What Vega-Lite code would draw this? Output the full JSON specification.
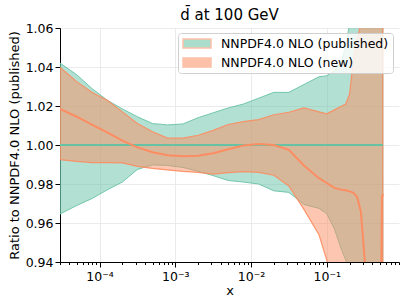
{
  "$schema": "https://vega.github.io/schema/vega-lite/v6.json",
  "width": 339,
  "height": 234,
  "autosize": {"type": "none"},
  "padding": {"left": 60, "top": 28, "right": 8, "bottom": 45},
  "background": "white",
  "title": {"text": "d̄ at 100 GeV", "fontSize": 15, "font": "DejaVu Sans", "fontWeight": "normal", "color": "#000", "offset": -1, "anchor": "middle"},
  "config": {
    "font": "DejaVu Sans",
    "view": {"stroke": null},
    "axis": {"labelFont": "DejaVu Sans", "titleFont": "DejaVu Sans", "labelFontSize": 12.5, "titleFontSize": 13, "titleFontWeight": "normal", "labelColor": "#000", "titleColor": "#000", "domainColor": "#000", "tickColor": "#000", "domainWidth": 1, "tickWidth": 1, "tickSize": 5, "gridColor": "#e6e6e6", "gridWidth": 0.8, "labelOverlap": false}
  },
  "data": {"values": [
    {"x": 3e-5, "g_lo": 0.9646, "g_hi": 1.042, "o_lo": 0.9925, "o_hi": 1.0398, "o_c": 1.0185, "g_c": 1.0},
    {"x": 5e-5, "g_lo": 0.969, "g_hi": 1.036, "o_lo": 0.9916, "o_hi": 1.0325, "o_c": 1.0145, "g_c": 1.0},
    {"x": 7.9e-5, "g_lo": 0.9725, "g_hi": 1.029, "o_lo": 0.991, "o_hi": 1.027, "o_c": 1.0105, "g_c": 1.0},
    {"x": 1.26e-4, "g_lo": 0.977, "g_hi": 1.023, "o_lo": 0.991, "o_hi": 1.023, "o_c": 1.0065, "g_c": 1.0},
    {"x": 2e-4, "g_lo": 0.981, "g_hi": 1.0185, "o_lo": 0.9908, "o_hi": 1.017, "o_c": 1.0022, "g_c": 1.0},
    {"x": 3.16e-4, "g_lo": 0.9875, "g_hi": 1.0145, "o_lo": 0.989, "o_hi": 1.011, "o_c": 0.9988, "g_c": 1.0},
    {"x": 5e-4, "g_lo": 0.9898, "g_hi": 1.011, "o_lo": 0.988, "o_hi": 1.0068, "o_c": 0.9963, "g_c": 1.0},
    {"x": 7.9e-4, "g_lo": 0.9895, "g_hi": 1.0103, "o_lo": 0.9872, "o_hi": 1.0035, "o_c": 0.9948, "g_c": 1.0},
    {"x": 1.26e-3, "g_lo": 0.9885, "g_hi": 1.0108, "o_lo": 0.9865, "o_hi": 1.0035, "o_c": 0.9942, "g_c": 1.0},
    {"x": 2e-3, "g_lo": 0.9865, "g_hi": 1.014, "o_lo": 0.986, "o_hi": 1.005, "o_c": 0.9945, "g_c": 1.0},
    {"x": 3.16e-3, "g_lo": 0.9843, "g_hi": 1.0165, "o_lo": 0.9851, "o_hi": 1.0075, "o_c": 0.9958, "g_c": 1.0},
    {"x": 5e-3, "g_lo": 0.9818, "g_hi": 1.019, "o_lo": 0.9858, "o_hi": 1.0105, "o_c": 0.9978, "g_c": 1.0},
    {"x": 7.9e-3, "g_lo": 0.981, "g_hi": 1.021, "o_lo": 0.9863, "o_hi": 1.012, "o_c": 0.9997, "g_c": 1.0},
    {"x": 0.0126, "g_lo": 0.98, "g_hi": 1.024, "o_lo": 0.986, "o_hi": 1.013, "o_c": 1.0005, "g_c": 1.0},
    {"x": 0.02, "g_lo": 0.9765, "g_hi": 1.027, "o_lo": 0.9845, "o_hi": 1.0155, "o_c": 1.0, "g_c": 1.0},
    {"x": 0.0316, "g_lo": 0.9757, "g_hi": 1.027, "o_lo": 0.979, "o_hi": 1.0168, "o_c": 0.9975, "g_c": 1.0},
    {"x": 0.05, "g_lo": 0.9695, "g_hi": 1.031, "o_lo": 0.967, "o_hi": 1.019, "o_c": 0.9895, "g_c": 1.0},
    {"x": 0.079, "g_lo": 0.9675, "g_hi": 1.035, "o_lo": 0.954, "o_hi": 1.017, "o_c": 0.983, "g_c": 1.0},
    {"x": 0.1, "g_lo": 0.9648, "g_hi": 1.0355, "o_lo": 0.941, "o_hi": 1.016, "o_c": 0.9805, "g_c": 1.0},
    {"x": 0.126, "g_lo": 0.957, "g_hi": 1.038, "o_lo": 0.925, "o_hi": 1.018, "o_c": 0.978, "g_c": 1.0},
    {"x": 0.158, "g_lo": 0.946, "g_hi": 1.043, "o_lo": 0.91, "o_hi": 1.02, "o_c": 0.977, "g_c": 1.0},
    {"x": 0.178, "g_lo": 0.941, "g_hi": 1.051, "o_lo": 0.9, "o_hi": 1.021, "o_c": 0.9768, "g_c": 1.0},
    {"x": 0.2, "g_lo": 0.935, "g_hi": 1.062, "o_lo": 0.89, "o_hi": 1.026, "o_c": 0.9762, "g_c": 1.0},
    {"x": 0.224, "g_lo": 0.93, "g_hi": 1.075, "o_lo": 0.88, "o_hi": 1.043, "o_c": 0.9755, "g_c": 1.0},
    {"x": 0.251, "g_lo": 0.925, "g_hi": 1.09, "o_lo": 0.87, "o_hi": 1.054, "o_c": 0.9735, "g_c": 1.0},
    {"x": 0.282, "g_lo": 0.92, "g_hi": 1.1, "o_lo": 0.86, "o_hi": 1.062, "o_c": 0.966, "g_c": 1.0},
    {"x": 0.316, "g_lo": 0.91, "g_hi": 1.11, "o_lo": 0.85, "o_hi": 1.08, "o_c": 0.942, "g_c": 1.0},
    {"x": 0.355, "g_lo": 0.9, "g_hi": 1.12, "o_lo": 0.84, "o_hi": 1.1, "o_c": 0.9, "g_c": 1.0},
    {"x": 0.398, "g_lo": 0.89, "g_hi": 1.13, "o_lo": 0.83, "o_hi": 1.12, "o_c": 0.87, "g_c": 1.0},
    {"x": 0.501, "g_lo": 0.88, "g_hi": 1.15, "o_lo": 0.82, "o_hi": 1.14, "o_c": 0.87, "g_c": 1.0},
    {"x": 0.513, "g_lo": 0.88, "g_hi": 1.15, "o_lo": 0.82, "o_hi": 1.14, "o_c": 0.9, "g_c": 1.0},
    {"x": 0.537, "g_lo": 0.88, "g_hi": 1.15, "o_lo": 0.82, "o_hi": 1.14, "o_c": 0.973, "g_c": 1.0},
    {"x": 0.55, "g_lo": 0.88, "g_hi": 1.15, "o_lo": 0.82, "o_hi": 1.14, "o_c": 0.975, "g_c": 1.0}
  ]},
  "layer": [
    {
      "mark": {"type": "area", "clip": true, "fillOpacity": 0.5, "stroke": "#66c2a5", "strokeWidth": 1, "strokeOpacity": 0.9},
      "encoding": {
        "x": {"field": "x", "type": "quantitative", "scale": {"type": "log", "domain": [3e-5, 0.9], "nice": false},
          "axis": {"values": [0.0001, 0.001, 0.01, 0.1], "labelExpr": "datum.value < 0.0005 ? '10⁻⁴' : datum.value < 0.005 ? '10⁻³' : datum.value < 0.05 ? '10⁻²' : '10⁻¹'", "title": "x", "grid": true, "tickSize": 5, "labelPadding": 3, "titlePadding": 2}},
        "y": {"field": "g_lo", "type": "quantitative", "scale": {"domain": [0.94, 1.06], "nice": false, "zero": false},
          "axis": {"values": [0.94, 0.96, 0.98, 1.0, 1.02, 1.04, 1.06], "format": ".2f", "title": "Ratio to NNPDF4.0 NLO (published)", "grid": true, "labelPadding": 2, "titlePadding": 4, "labelOverlap": false}},
        "y2": {"field": "g_hi"},
        "fill": {"datum": "NNPDF4.0 NLO (published)", "type": "nominal",
          "scale": {"domain": ["NNPDF4.0 NLO (published)", "NNPDF4.0 NLO (new)"], "range": ["#66c2a5", "#fc8d62"]},
          "legend": {"orient": "none", "legendX": 118, "legendY": 5, "title": null, "symbolType": "M-1,-0.32H1V0.32H-1Z", "symbolSize": 784, "symbolOpacity": 0.55, "symbolStrokeColor": "#303030", "symbolStrokeWidth": 1.5, "labelFontSize": 12.5, "labelFont": "DejaVu Sans", "labelColor": "#000", "labelOffset": 9, "labelLimit": 400, "padding": 4, "rowPadding": 6, "strokeColor": "#d0d0d0", "fillColor": "rgba(255,255,255,0.8)", "cornerRadius": 3, "clipHeight": 13}}
      }
    },
    {
      "mark": {"type": "area", "clip": true, "fillOpacity": 0.5, "stroke": "#fc8d62", "strokeWidth": 1.2, "strokeOpacity": 0.9},
      "encoding": {
        "x": {"field": "x", "type": "quantitative", "axis": null},
        "y": {"field": "o_lo", "type": "quantitative",
          "axis": {"values": [0.94, 0.96, 0.98, 1.0, 1.02, 1.04, 1.06], "format": ".2f", "title": "Ratio to NNPDF4.0 NLO (published)", "grid": true, "labelPadding": 2, "titlePadding": 4, "labelOverlap": false}},
        "y2": {"field": "o_hi"},
        "fill": {"datum": "NNPDF4.0 NLO (new)", "type": "nominal"}
      }
    },
    {
      "mark": {"type": "line", "clip": true, "color": "#66c2a5", "strokeWidth": 2},
      "encoding": {
        "x": {"field": "x", "type": "quantitative",
          "axis": {"values": [0.00003, 0.00004, 0.00005, 0.00006, 0.00007, 0.00008, 0.00009, 0.0002, 0.0003, 0.0004, 0.0005, 0.0006, 0.0007, 0.0008, 0.0009, 0.002, 0.003, 0.004, 0.005, 0.006, 0.007, 0.008, 0.009, 0.02, 0.03, 0.04, 0.05, 0.06, 0.07, 0.08, 0.09, 0.2, 0.3, 0.4, 0.5, 0.6, 0.7, 0.8, 0.9], "labels": false, "grid": false, "domain": false, "tickSize": 2.5, "title": null, "orient": "bottom"}},
        "y": {"field": "g_c", "type": "quantitative",
          "axis": {"values": [0.94, 0.96, 0.98, 1.0, 1.02, 1.04, 1.06], "format": ".2f", "title": "Ratio to NNPDF4.0 NLO (published)", "grid": true, "labelPadding": 2, "titlePadding": 4, "labelOverlap": false}}
      }
    },
    {
      "mark": {"type": "line", "clip": true, "color": "#fc8d62", "strokeWidth": 2},
      "encoding": {
        "x": {"field": "x", "type": "quantitative", "axis": null},
        "y": {"field": "o_c", "type": "quantitative",
          "axis": {"values": [0.94, 0.96, 0.98, 1.0, 1.02, 1.04, 1.06], "format": ".2f", "title": "Ratio to NNPDF4.0 NLO (published)", "grid": true, "labelPadding": 2, "titlePadding": 4, "labelOverlap": false}}
      }
    }
  ],
  "resolve": {"axis": {"x": "independent"}}
}
